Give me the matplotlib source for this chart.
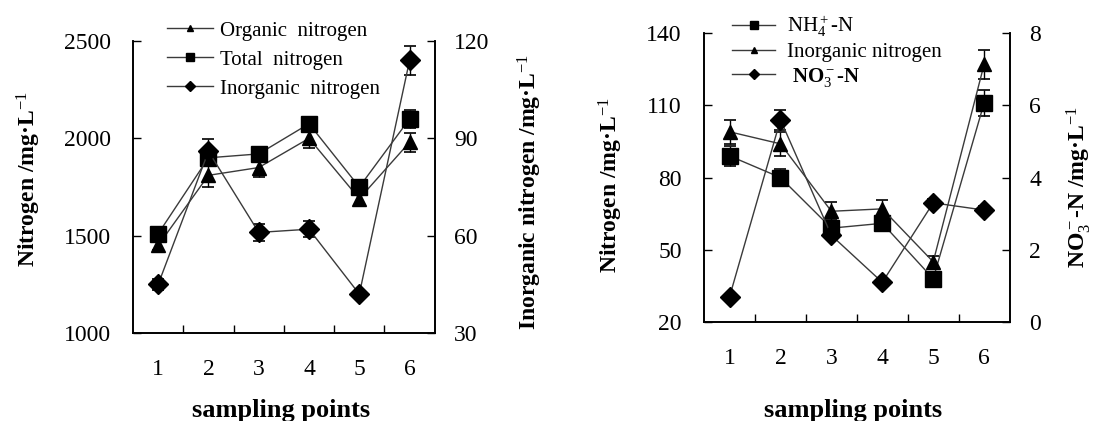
import matplotlib
matplotlib.use("Agg")
import matplotlib.pyplot as plt
from matplotlib.ticker import FixedLocator

plt.rcParams['font.family'] = ['Liberation Serif', 'DejaVu Serif']
plt.rcParams['mathtext.fontset'] = 'custom'
plt.rcParams['mathtext.rm'] = 'Liberation Serif'
plt.rcParams['mathtext.it'] = 'Liberation Serif:italic'
plt.rcParams['mathtext.bf'] = 'Liberation Serif:bold'

# sampling points
points = [1, 2, 3, 4, 5, 6]

# left panel (left axis: mg/L, right axis: inorganic mg/L)
organic_n = [1450, 1810, 1850, 2000, 1690, 1980]
organic_err = [25, 60, 50, 50, 35, 50]
total_n = [1510, 1900, 1920, 2075, 1750, 2100]
total_err = [20, 40, 30, 30, 30, 45]
inorganic_n = [45, 86, 61, 62, 42, 114]
inorganic_err = [1.8, 3.7, 2.5, 2.5, 1.0, 4.6]

# right panel
nh4_n = [89, 80, 59, 61, 38, 111]
nh4_err = [4, 3.5, 3, 3, 2, 5.5]
inorg_n = [99, 94, 66, 67, 45, 127]
inorg_err = [5, 5, 3.7, 3.7, 2.5, 6]
no3_n = [0.7, 5.6, 2.4, 1.1, 3.3, 3.1]
no3_err = [0.05, 0.28, 0.1, 0.1, 0.1, 0.1]

LINE = '#3a3a3a'
TICK_FS = 17
LAB_FS = 17


def style_axis(ax, ax2, yticks, y2ticks):
    ax.set_xlim(0.5, 6.5)
    ax.set_xticks(points)
    ax.xaxis.set_minor_locator(FixedLocator([1.5, 2.5, 3.5, 4.5, 5.5]))
    ax.tick_params(axis='x', which='major', length=0, pad=19, labelsize=TICK_FS)
    ax.tick_params(axis='x', which='minor', direction='in', length=6, width=1)
    ax.set_yticks(yticks)
    ax.tick_params(axis='y', direction='in', length=6, width=1, pad=16, labelsize=TICK_FS)
    ax2.set_yticks(y2ticks)
    ax2.tick_params(axis='y', direction='in', length=6, width=1, pad=14, labelsize=TICK_FS)
    for a in (ax, ax2):
        a.spines['top'].set_visible(False)
        for s in a.spines.values():
            s.set_linewidth(1.2)


def draw(ax, y, err, marker, ms):
    line, _, _ = ax.errorbar(points, y, yerr=err, color=LINE, lw=1.0,
                             marker=marker, ms=ms, mfc='black', mec='black',
                             ecolor='black', elinewidth=1.0, capsize=4, capthick=1.2)
    return line


fig = plt.figure(figsize=(10.95, 4.21), dpi=100)

# ---- left panel ----
ax1 = fig.add_axes([0.1215, 0.209, 0.2755, 0.6936])
ax1b = ax1.twinx()
ax1.set_ylim(1000, 2500)
ax1b.set_ylim(30, 120)
style_axis(ax1, ax1b, [1000, 1500, 2000, 2500], [30, 60, 90, 120])

h1 = draw(ax1, organic_n, organic_err, '^', 10)
h2 = draw(ax1, total_n, total_err, 's', 11)
h3 = draw(ax1b, inorganic_n, inorganic_err, 'D', 10)

ax1.set_ylabel('Nitrogen /mg·L$^{-1}$', fontsize=LAB_FS, fontweight='bold')
ax1.yaxis.set_label_coords(-0.30, 0.527)
ax1b.set_ylabel('Inorganic nitrogen /mg·L$^{-1}$', fontsize=LAB_FS, fontweight='bold')
ax1b.yaxis.set_label_coords(1.268, 0.483)
ax1.set_xlabel('sampling points', fontsize=19, fontweight='bold')
ax1.xaxis.set_label_coords(0.49, -0.226)

fig.legend([h1, h2, h3], ['Organic  nitrogen', 'Total  nitrogen', 'Inorganic  nitrogen'],
           loc='upper left', bbox_to_anchor=(0.1525, 0.95), frameon=False,
           fontsize=15, markerscale=0.5, handlelength=2.2, handletextpad=0.33,
           labelspacing=0.45, borderaxespad=0, borderpad=0)

# ---- right panel ----
ax2 = fig.add_axes([0.643, 0.235, 0.279, 0.6865])
ax2b = ax2.twinx()
ax2.set_ylim(20, 140)
ax2b.set_ylim(0, 8)
style_axis(ax2, ax2b, [20, 50, 80, 110, 140], [0, 2, 4, 6, 8])

g1 = draw(ax2, nh4_n, nh4_err, 's', 11)
g2 = draw(ax2, inorg_n, inorg_err, '^', 10)
g3 = draw(ax2b, no3_n, no3_err, 'D', 10)

ax2.set_ylabel('Nitrogen /mg·L$^{-1}$', fontsize=LAB_FS, fontweight='bold')
ax2.yaxis.set_label_coords(-0.258, 0.474)
ax2b.set_ylabel('NO$_3^-$-N /mg·L$^{-1}$', fontsize=LAB_FS, fontweight='bold')
ax2b.yaxis.set_label_coords(1.18, 0.467)
ax2.set_xlabel('sampling points', fontsize=19, fontweight='bold')
ax2.xaxis.set_label_coords(0.487, -0.266)

leg2 = fig.legend([g1, g2, g3], ['NH$_4^+$-N', 'Inorganic nitrogen', ' NO$_3^-$-N'],
                  loc='upper left', bbox_to_anchor=(0.6685, 0.968), frameon=False,
                  fontsize=15, markerscale=0.5, handlelength=2.07, handletextpad=0.58,
                  labelspacing=0.17, borderaxespad=0, borderpad=0)
leg2.get_texts()[2].set_fontweight('bold')

fig.savefig('out.png', dpi=100)
